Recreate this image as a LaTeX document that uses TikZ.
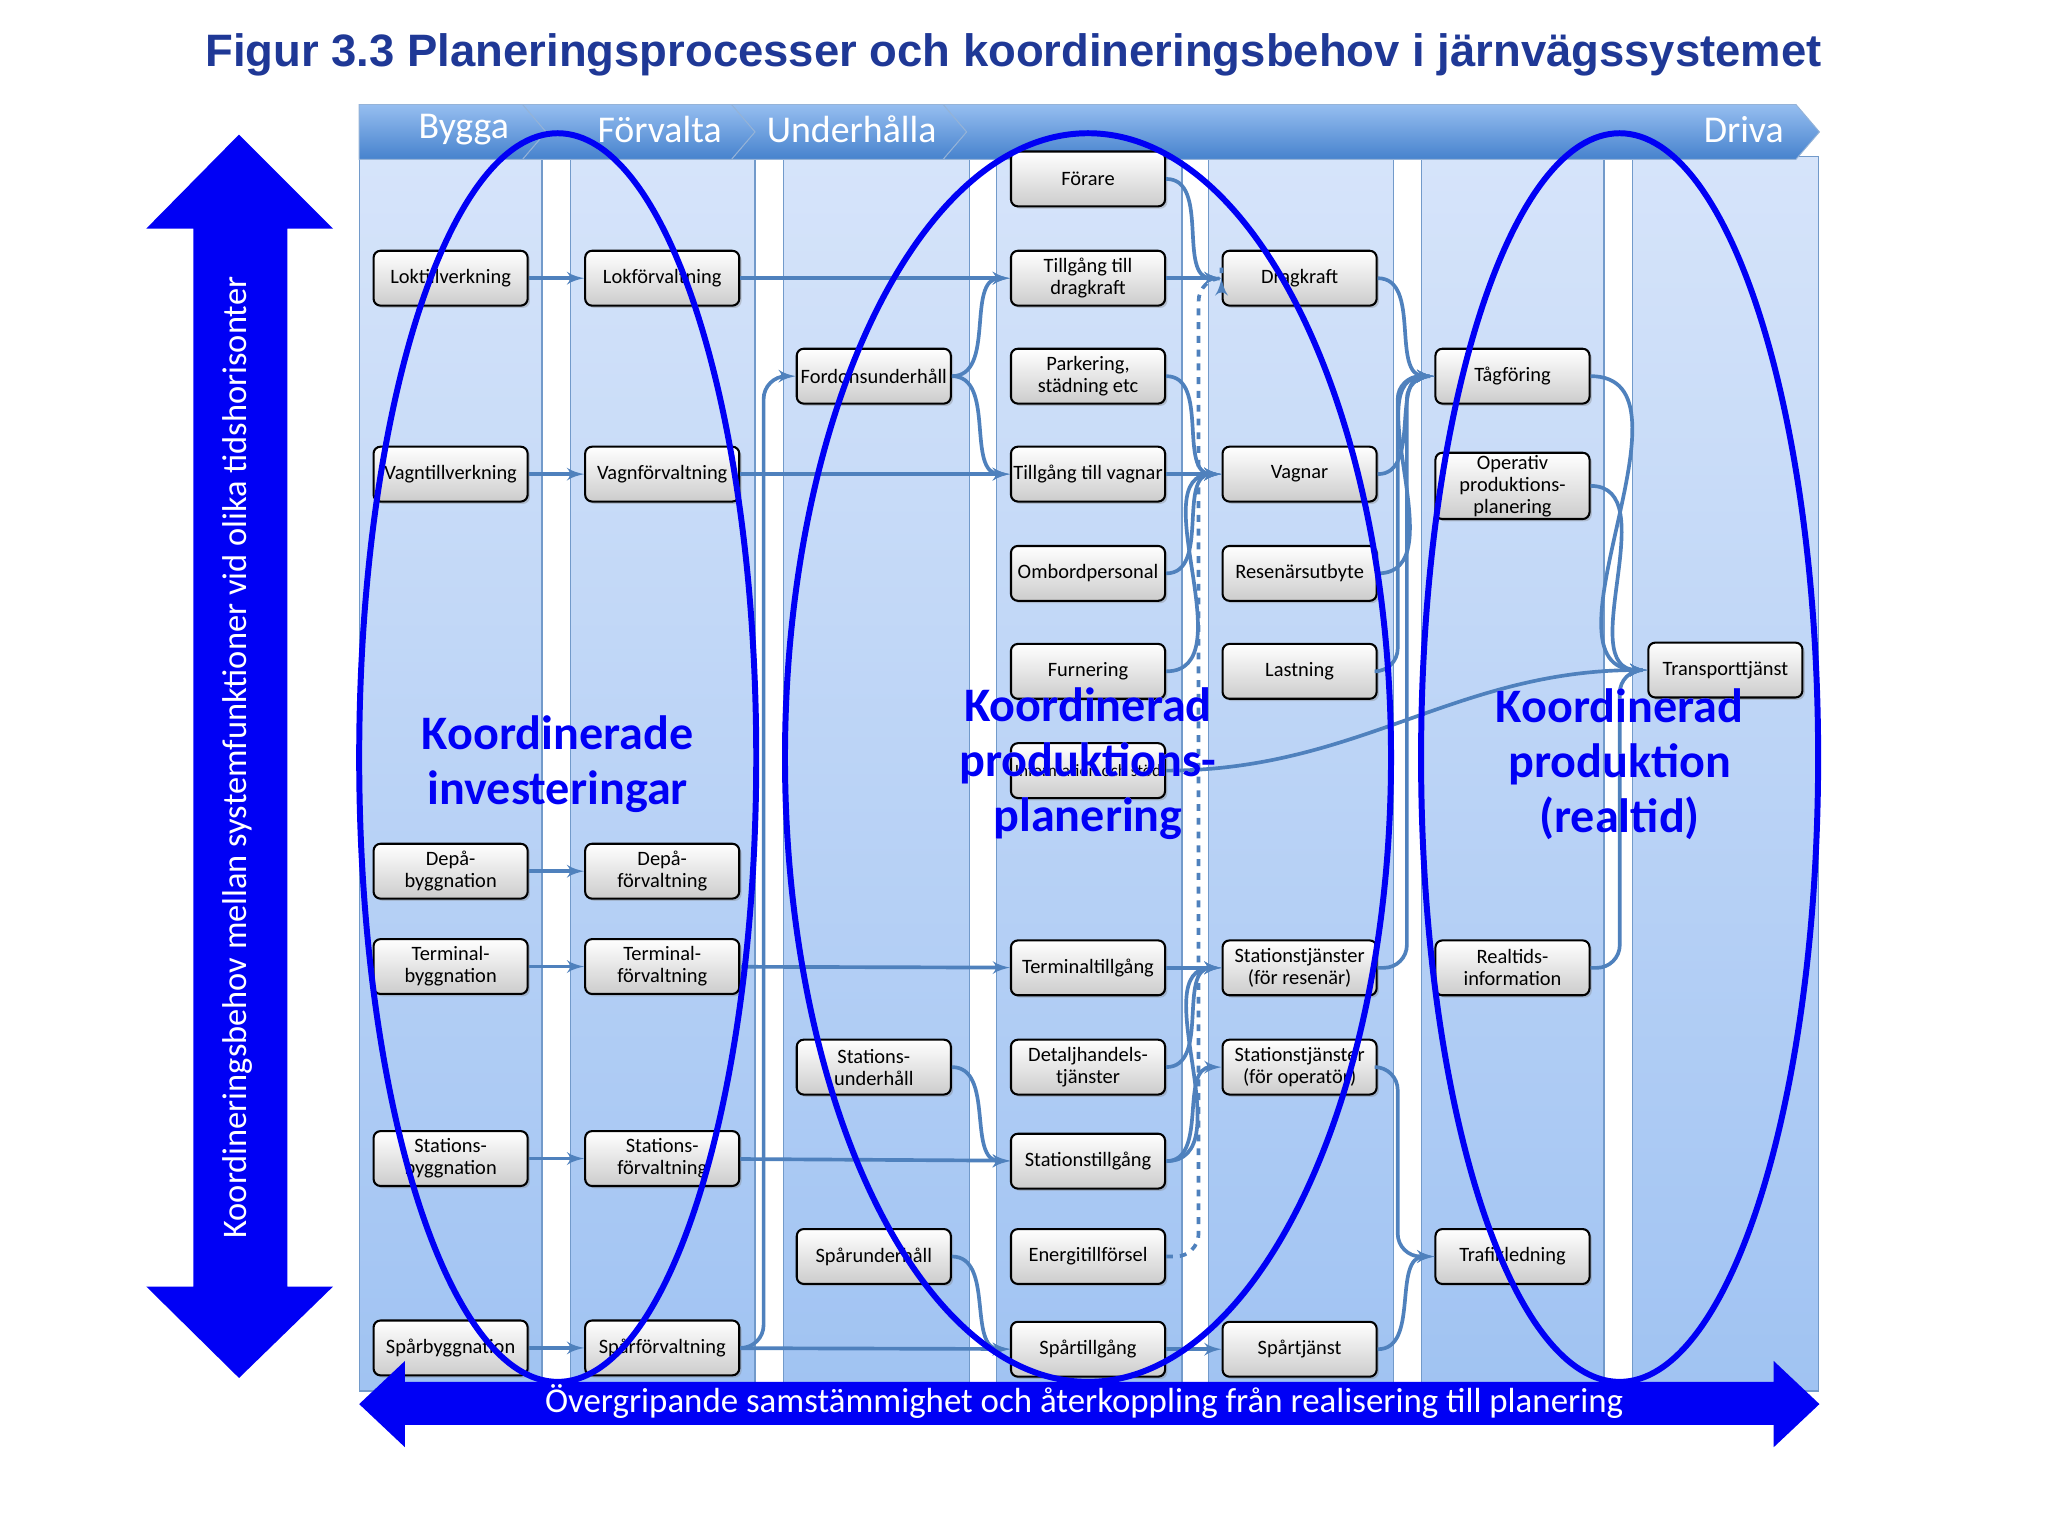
\documentclass[tikz,border=0pt]{standalone}
\usepackage{fontspec}
\setmainfont{Carlito}
\newfontfamily\titlefont{Liberation Sans}
\usepackage[outline]{contour}
\contourlength{2.4pt}
\usetikzlibrary{arrows,shapes,shadows}
\definecolor{linkblue}{RGB}{79,129,189}
\definecolor{coltop}{RGB}{214,228,250}
\definecolor{colbot}{RGB}{160,195,242}
\definecolor{headtop}{RGB}{150,190,240}
\definecolor{headbot}{RGB}{70,130,205}
\definecolor{titleblue}{RGB}{31,56,150}
\definecolor{pureblue}{RGB}{0,0,245}

\begin{document}
\begin{tikzpicture}[x=0.02cm,y=-0.02cm]
		\tikzset{box/.style = {shape=rectangle,rounded corners=3pt,draw=black,line width=0.9pt,top color=white,bottom color=gray!40,minimum width=2.36cm,minimum height=0.84cm,align=center,inner sep=1pt,font=\fontsize{8.9}{9.6}\selectfont,drop shadow={opacity=0.35,shadow xshift=1pt,shadow yshift=-1pt}}}
		\tikzset{link/.style = {->,> = latex',draw=linkblue,line width=1.6pt}}
		\tikzset{ring/.style = {draw=pureblue,line width=2.6pt}}
		\tikzset{big/.style = {font=\fontsize{21}{24}\selectfont\bfseries,text=pureblue,align=center}}
		\useasboundingbox (0,0) rectangle (1568,1176);
		
		% title
		\node[font=\titlefont\fontsize{19.8}{22}\selectfont\bfseries,text=titleblue] (title) at (776,42) {Figur 3.3 Planeringsprocesser och koordineringsbehov i järnvägssystemet};
		
		% columns
		\fill[white] (275,120) rectangle (1392,1065);
		\foreach \xa/\xb in {275/415,437/578,600/742,763/905,925/1067,1088/1228,1250/1392}
			\shade[top color=coltop,bottom color=colbot,draw=linkblue!80,line width=0.5pt] (\xa,120) rectangle (\xb,1065);
		
		% header
		\shade[top color=headtop,bottom color=headbot,draw=linkblue!60] (722,80) -- (1375,80) -- (1393,101) -- (1375,122) -- (722,122) -- (740,101) -- cycle;
		\shade[top color=headtop,bottom color=headbot,draw=linkblue!60] (560,80) -- (722,80) -- (740,101) -- (722,122) -- (560,122) -- (578,101) -- cycle;
		\shade[top color=headtop,bottom color=headbot,draw=linkblue!60] (400,80) -- (560,80) -- (578,101) -- (560,122) -- (400,122) -- (418,101) -- cycle;
		\shade[top color=headtop,bottom color=headbot,draw=linkblue!60] (275,80) -- (400,80) -- (418,101) -- (400,122) -- (275,122) -- cycle;
		\foreach \x/\t in {355/Bygga,505/Förvalta,652/Underhålla,1335/Driva}
			\node[text=white,font=\fontsize{16.5}{18}\selectfont] at (\x,99) {\t};
		
		% build
		\node[box] (lokT) at (345,213) {Loktillverkning};
		\node[box] (vagnT) at (345,363) {Vagntillverkning};
		\node[box] (depB) at (345,667) {Depå-\\byggnation};
		\node[box] (termB) at (345,740) {Terminal-\\byggnation};
		\node[box] (statB) at (345,887) {Stations-\\byggnation};
		\node[box] (sparB) at (345,1032) {Spårbyggnation};
		
		% manage
		\node[box] (lokF) at (507,213) {Lokförvaltning};
		\node[box] (vagnF) at (507,363) {Vagnförvaltning};
		\node[box] (depF) at (507,667) {Depå-\\förvaltning};
		\node[box] (termF) at (507,740) {Terminal-\\förvaltning};
		\node[box] (statF) at (507,887) {Stations-\\förvaltning};
		\node[box] (sparF) at (507,1032) {Spårförvaltning};
		
		% maintain
		\node[box] (ford) at (669,288) {Fordonsunderhåll};
		\node[box] (statU) at (669,817) {Stations-\\underhåll};
		\node[box] (sparU) at (669,962) {Spårunderhåll};
		
		% access
		\node[box] (forare) at (833,137) {Förare};
		\node[box] (tDrag) at (833,213) {Tillgång till\\dragkraft};
		\node[box] (park) at (833,288) {Parkering,\\städning etc};
		\node[box] (tVagn) at (833,363) {Tillgång till vagnar};
		\node[box] (ombord) at (833,439) {Ombordpersonal};
		\node[box] (furn) at (833,514) {Furnering};
		\node[box,font=\fontsize{7.5}{8}\selectfont] (info) at (833,590) {Information och stöd};
		\node[box] (termT) at (833,741) {Terminaltillgång};
		\node[box] (detalj) at (833,817) {Detaljhandels-\\tjänster};
		\node[box] (statT) at (833,889) {Stationstillgång};
		\node[box] (energi) at (833,962) {Energitillförsel};
		\node[box] (sparT) at (833,1033) {Spårtillgång};
		
		% services
		\node[box] (drag) at (995,213) {Dragkraft};
		\node[box] (vagnar) at (995,363) {Vagnar};
		\node[box] (resen) at (995,439) {Resenärsutbyte};
		\node[box] (last) at (995,514) {Lastning};
		\node[box] (statR) at (995,741) {Stationstjänster\\(för resenär)};
		\node[box] (statO) at (995,817) {Stationstjänster\\(för operatör)};
		\node[box] (sparTj) at (995,1033) {Spårtjänst};
		
		% operation
		\node[box] (tag) at (1158,288) {Tågföring};
		\node[box] (oper) at (1158,372) {Operativ\\produktions-\\planering};
		\node[box] (real) at (1158,741) {Realtids-\\information};
		\node[box] (trafik) at (1158,962) {Trafikledning};
		\node[box] (trans) at (1321,513) {Transporttjänst};
		
		\draw[link] (lokT) to (lokF);
		\draw[link] (vagnT) to (vagnF);
		\draw[link] (depB) to (depF);
		\draw[link] (termB) to (termF);
		\draw[link] (statB) to (statF);
		\draw[link] (sparB) to (sparF);
		\draw[link] (lokF) to (tDrag);
		\draw[link] (vagnF) to (tVagn);
		\draw[link] (termF) to (termT);
		\draw[link] (statF) to (statT);
		\draw[link] (sparF) to (sparT);
		\draw[link,rounded corners=10pt] (sparF.east) -| ([xshift=-14]ford.west) -- (ford.west);
		\draw[link] (ford.east) to[out=0,in=180] (tDrag.west);
		\draw[link] (ford.east) to[out=0,in=180] (tVagn.west);
		\draw[link] (statU.east) to[out=0,in=180] (statT.west);
		\draw[link] (sparU.east) to[out=0,in=180] (sparT.west);
		
		\draw[link] (forare.east) to[out=0,in=180] (drag.west);
		\draw[link] (tDrag) to (drag);
		\draw[link] (park.east) to[out=0,in=180] (vagnar.west);
		\draw[link] (tVagn) to (vagnar);
		\draw[link] (ombord.east) to[out=0,in=180] (vagnar.west);
		\draw[link] (furn.east) to[out=0,in=180] (vagnar.west);
		\draw[link,dashed,rounded corners=10pt] (energi.east) -| ([xshift=-10]drag.west) -- (drag.west);
		\draw[link] (termT.east) to[out=0,in=180] (statR.west);
		\draw[link] (detalj.east) to[out=0,in=180] (statR.west);
		\draw[link] (statT.east) to[out=0,in=180] (statR.west);
		\draw[link] (statT.east) to[out=0,in=180] (statO.west);
		\draw[link] (sparT) to (sparTj);
		
		\draw[link] (drag.east) to[out=0,in=180] (tag.west);
		\draw[link] (vagnar.east) to[out=0,in=180] (tag.west);
		\draw[link] (resen.east) to[out=0,in=180] (tag.west);
		\draw[link,rounded corners=10pt] (last.east) -| ([xshift=-16]tag.west) -- (tag.west);
		\draw[link,rounded corners=10pt] (statR.east) -| ([xshift=-12]tag.west) -- (tag.west);
		\draw[link,rounded corners=10pt] (statO.east) -| ([xshift=-16]trafik.west) -- (trafik.west);
		\draw[link] (sparTj.east) to[out=0,in=180] (trafik.west);
		
		\draw[link] (tag.east) to[out=0,in=180] (trans.west);
		\draw[link] (oper.east) to[out=0,in=180] (trans.west);
		\draw[link,rounded corners=10pt] (real.east) -| ([xshift=-12]trans.west) -- (trans.west);
		\draw[link] (info.east) to[out=0,in=180] (trans.west);
		
		% rings
		\draw[ring] (427,580) ellipse (152 and 478);
		\draw[ring] (833,580) ellipse (232 and 478);
		\draw[ring] (1240,580) ellipse (152 and 478);
		\node[big] (invest) at (427,585) {\contour{white}{Koordinerade}\\\contour{white}{investeringar}};
		\node[big] (plan) at (833,585) {\contour{white}{Koordinerad}\\\contour{white}{produktions-}\\\contour{white}{planering}};
		\node[big] (realt) at (1240,585) {\contour{white}{Koordinerad}\\\contour{white}{produktion}\\\contour{white}{(realtid)}};
		
		% big arrows
		\fill[pureblue] (183,103) -- (255,175) -- (220,175) -- (220,985) -- (255,985) -- (183,1055) -- (112,985) -- (148,985) -- (148,175) -- (112,175) -- cycle;
		\node[rotate=90,text=white,font=\fontsize{15}{17}\selectfont] (vtext) at (182,580) {Koordineringsbehov mellan systemfunktioner vid olika tidshorisonter};
		\fill[pureblue] (275,1075) -- (310,1042) -- (310,1058) -- (1358,1058) -- (1358,1042) -- (1393,1075) -- (1358,1108) -- (1358,1091) -- (310,1091) -- (310,1108) -- cycle;
		\node[text=white,font=\fontsize{15.2}{17}\selectfont] (htext) at (830,1073) {Övergripande samstämmighet och återkoppling från realisering till planering};
\end{tikzpicture}
\end{document}
